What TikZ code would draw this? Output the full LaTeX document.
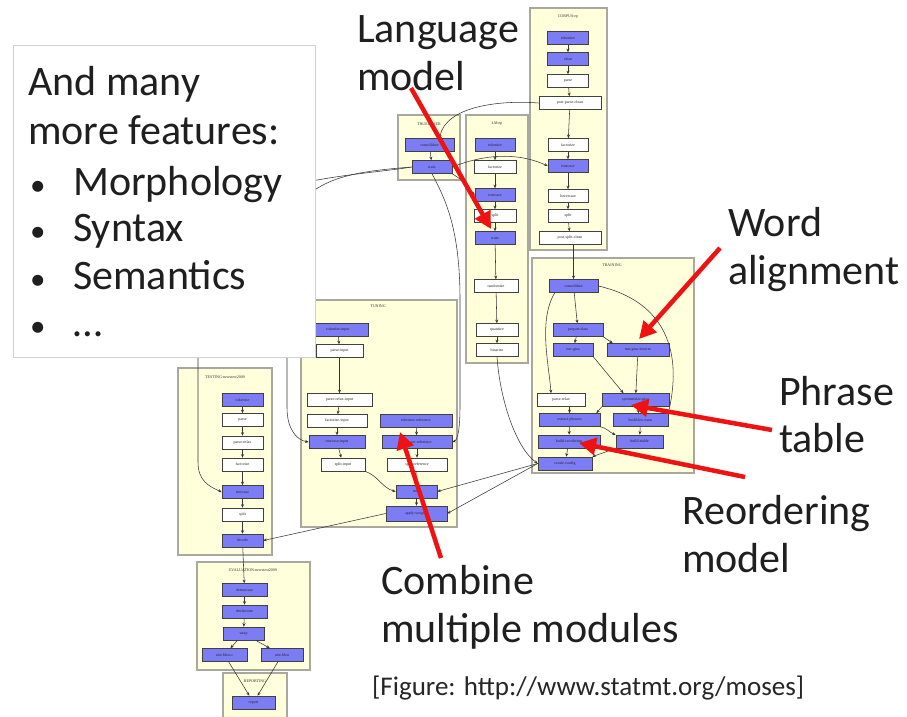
\documentclass[tikz,border=0pt]{standalone}
\usepackage{fontspec}
\setmainfont{Carlito}
\newfontfamily\stepfont{Liberation Serif}
\usetikzlibrary{arrows.meta}
\definecolor{boxfill}{RGB}{255,255,220}
\definecolor{boxline}{RGB}{168,168,158}
\definecolor{stepblue}{RGB}{124,124,244}
\definecolor{edgegray}{RGB}{55,55,55}
\definecolor{callred}{RGB}{238,18,18}
\begin{document}
\begin{tikzpicture}[x=1pt,y=-1pt,
  stagebox/.style={fill=boxfill,draw=boxline,line width=1.6pt},
  stagetitle/.style={font=\stepfont\fontsize{4}{5}\selectfont,text=black!80,inner sep=0pt},
  stepnode/.style={draw=black!75,line width=0.6pt,minimum height=13pt,inner sep=0pt,
    font=\stepfont\fontsize{4}{5}\selectfont,text=black!85},
  bluestep/.style={stepnode,fill=stepblue},
  plainstep/.style={stepnode,fill=white},
  dep/.style={draw=edgegray,line width=0.55pt,-{Stealth[length=3.5pt,width=3pt]}},
  callout/.style={draw=callred,line width=4.5pt,-{Triangle[length=17pt,width=17pt]}},
  bigtext/.style={font=\fontsize{42}{48}\selectfont,anchor=base west,inner sep=0pt,text=black!88},
  bulletmark/.style={font=\fontsize{31}{36}\selectfont,anchor=base west,inner sep=0pt,text=black!88},
]
\fill[white] (0,0) rectangle (907,716);
\useasboundingbox (0,0) rectangle (907,716);

% ---------- stage frames ----------
\draw[stagebox] (530,8) rectangle (607,250);    % CORPUS
\draw[stagebox] (398,115) rectangle (460,180);  % TRUECASER
\draw[stagebox] (466,115) rectangle (528,363);  % LM
\draw[stagebox] (532,258) rectangle (694,473);  % TRAINING
\draw[stagebox] (301,300) rectangle (457,527);  % TUNING
\draw[stagebox] (178,368) rectangle (272,555);  % TESTING
\draw[stagebox] (197,562) rectangle (310,670);  % EVALUATION
\draw[stagebox] (223,673) rectangle (287,722);  % REPORTING

\node[stagetitle] (corpustitle) at (568,17) {CORPUS:ep};
\node[stagetitle] (tctitle) at (429,124) {TRUECASER};
\node[stagetitle] (lmtitle) at (497,124) {LM:ep};
\node[stagetitle] (trtitle) at (612,265) {TRAINING};
\node[stagetitle] (tutitle) at (378,306) {TUNING};
\node[stagetitle] (tetitle) at (225,377) {TESTING:newstest2009};
\node[stagetitle] (evtitle) at (253,570) {EVALUATION:newstest2009};
\node[stagetitle] (rptitle) at (255,681) {REPORTING};

% ---------- CORPUS ----------
\node[bluestep,minimum width=41pt] (ctok) at (568,38) {tokenize};
\node[bluestep,minimum width=41pt] (cclean) at (568,59) {clean};
\node[plainstep,minimum width=41pt] (cparse) at (568,81) {parse};
\node[plainstep,minimum width=62pt] (cppc) at (570,103) {post-parse-clean};
\node[plainstep,minimum width=40pt] (cfac) at (568,145) {factorize};
\node[bluestep,minimum width=40pt] (ctc) at (568,166) {truecase};
\node[plainstep,minimum width=40pt] (clc) at (568,196) {lowercase};
\node[plainstep,minimum width=40pt] (csplit) at (568,216) {split};
\node[plainstep,minimum width=62pt] (cpsc) at (570,238) {post-split-clean};

% ---------- TRUECASER ----------
\node[bluestep,minimum width=49pt] (tcons) at (429.5,145) {consolidate};
\node[bluestep,minimum width=40pt] (ttrain) at (432,167) {train};

% ---------- LM ----------
\node[bluestep,minimum width=40pt] (ltok) at (495,145) {tokenize};
\node[plainstep,minimum width=42pt] (lfac) at (495,167) {factorize};
\node[bluestep,minimum width=40pt] (ltc) at (495,195) {truecase};
\node[plainstep,minimum width=42pt] (lsplit) at (495,216) {split};
\node[bluestep,minimum width=40pt] (ltrain) at (495,238) {train};
\node[plainstep,minimum width=44pt] (lrand) at (496,286) {randomize};
\node[plainstep,minimum width=42pt] (lquant) at (497,330) {quantize};
\node[plainstep,minimum width=42pt] (lbin) at (497,350) {binarize};

% ---------- TRAINING ----------
\node[bluestep,minimum width=49pt] (rcons) at (573.5,286) {consolidate};
\node[bluestep,minimum width=50pt] (rprep) at (578,330) {prepare-data};
\node[bluestep,minimum width=40pt] (rgiza) at (573,350) {run-giza};
\node[bluestep,minimum width=62pt] (rgizainv) at (638,350) {run-giza-inverse};
\node[plainstep,minimum width=48pt] (rrelax) at (561,400) {parse-relax};
\node[bluestep,minimum width=67pt] (rsym) at (635.5,400) {symmetrize-giza};
\node[bluestep,minimum width=61pt] (rext) at (569.5,420) {extract-phrases};
\node[bluestep,minimum width=55pt] (rlex) at (640.5,420) {build-lex-trans};
\node[bluestep,minimum width=62pt] (rreo) at (569,441.5) {build-reordering};
\node[bluestep,minimum width=47pt] (rtt) at (639.5,441.5) {build-ttable};
\node[bluestep,minimum width=54pt] (rcc) at (565,463.5) {create-config};

% ---------- TUNING ----------
\node[bluestep,minimum width=61pt] (utokin) at (338,330) {tokenize-input};
\node[plainstep,minimum width=47pt] (uparsein) at (339.5,351) {parse-input};
\node[plainstep,minimum width=65pt] (urelaxin) at (339.5,400) {parse-relax-input};
\node[plainstep,minimum width=60pt] (ufacin) at (337,421) {factorize-input};
\node[bluestep,minimum width=56pt] (utcin) at (337,442) {truecase-input};
\node[plainstep,minimum width=44pt] (usplitin) at (343,464.5) {split-input};
\node[bluestep,minimum width=72pt] (utokref) at (416,420.5) {tokenize-reference};
\node[bluestep,minimum width=70pt] (utcref) at (417,442) {truecase-reference};
\node[plainstep,minimum width=60pt] (usplitref) at (417,464.5) {split-reference};
\node[bluestep,minimum width=41pt] (utune) at (416.5,491.5) {tune};
\node[bluestep,minimum width=61pt,minimum height=15pt] (uapply) at (416.5,513.5) {apply-weights};

% ---------- TESTING ----------
\node[bluestep,minimum width=41pt] (stok) at (242.5,400) {tokenize};
\node[plainstep,minimum width=41pt] (sparse) at (242.5,420) {parse};
\node[plainstep,minimum width=41pt] (srelax) at (242.5,442.5) {parse-relax};
\node[plainstep,minimum width=41pt] (sfac) at (242.5,464.5) {factorize};
\node[bluestep,minimum width=41pt] (stc) at (242.5,492) {truecase};
\node[plainstep,minimum width=41pt] (ssplit) at (242.5,514.5) {split};
\node[bluestep,minimum width=41pt] (sdec) at (242.5,540.5) {decode};

% ---------- EVALUATION / REPORTING ----------
\node[bluestep,minimum width=45pt] (edetc) at (244.5,590) {detruecase};
\node[bluestep,minimum width=45pt] (edetok) at (244.5,611.5) {detokenize};
\node[bluestep,minimum width=41pt] (ewrap) at (243.5,633.5) {wrap};
\node[bluestep,minimum width=45pt] (enbc) at (224.5,655) {nist-bleu-c};
\node[bluestep,minimum width=42pt] (enb) at (282,655) {nist-bleu};
\node[bluestep,minimum width=43pt] (preport) at (253.5,702.5) {report};

% ---------- dependencies inside stages ----------
\foreach \a/\b in {ctok/cclean,cclean/cparse,cparse/cppc,cppc/cfac,cfac/ctc,ctc/clc,clc/csplit,csplit/cpsc,
  tcons/ttrain,
  ltok/lfac,lfac/ltc,ltc/lsplit,lsplit/ltrain,ltrain/lrand,lrand/lquant,lquant/lbin,
  rcons/rprep,rprep/rgiza,rgizainv/rsym,rsym/rlex,rlex/rtt,rext/rreo,rreo/rcc,
  utokin/uparsein,uparsein/urelaxin,urelaxin/ufacin,ufacin/utcin,utcin/usplitin,
  utokref/utcref,utcref/usplitref,usplitref/utune,utune/uapply,
  stok/sparse,sparse/srelax,srelax/sfac,sfac/stc,stc/ssplit,ssplit/sdec,
  sdec/edetc,edetc/edetok,edetok/ewrap,ewrap/enbc,ewrap/enb,enbc/preport,enb/preport}
  \draw[dep] (\a) -- (\b);

\draw[dep] (cpsc.south -| rcons) -- (rcons);
\draw[dep] (rcons.200) .. controls (538,320) and (549,365) .. ([xshift=-10pt]rrelax.north);
\draw[dep] (rcons.east) .. controls (660,300) and (684,345) .. (rlex.north east);
\draw[dep] (rprep.south east) -- ([xshift=6pt]rgizainv.north west);
\draw[dep] (rgiza.south east) -- ([xshift=-12pt]rsym.north);
\draw[dep] (rrelax.south -| rext.north) -- (rext.north);
\draw[dep] (rsym.south west) -- ([xshift=-4pt]rext.north east);
\draw[dep] (rext.south east) to[out=-10,in=160] (rtt.north west);
\draw[dep] (rtt.south west) to[out=200,in=20] (rcc.north east);
\draw[dep] (usplitin.south east) to[out=-20,in=165] (utune.west);

% ---------- dependencies between stages ----------
\draw[dep] (cppc.west) .. controls (500,100) and (446,106) .. ([xshift=10pt]tcons.north);
\draw[dep] (ttrain.east) .. controls (490,152) and (522,154) .. (ctc.west);
\draw[dep] (ttrain.south east) .. controls (462,180) .. (ltc.west);
\draw[dep] (ttrain.south) .. controls (446,200) and (460,230) .. (460,300)
  -- (460,405) .. controls (460,428) and (458,440) .. (utcref.east);
\draw[dep] (ttrain.west) .. controls (360,176) and (198,180) .. (198,260)
  -- (198,462) .. controls (198,480) and (208,486) .. (stc.west);
\draw[dep] (ttrain.west) .. controls (350,172) and (287,178) .. (287,250)
  -- (287,408) .. controls (287,428) and (296,440) .. (utcin.west);
\draw[dep] (lbin.south) .. controls (500,400) and (516,448) .. (rcc.west);
\draw[dep] (rcc.west) -- (utune.east);
\draw[dep] (rcc.west) -- (uapply.east);
\draw[dep] (uapply.west) -- (sdec.east);

% ---------- feature list panel ----------
\draw[fill=white,draw=black!18,line width=0.6pt] (13,45) rectangle (315,357);
\node[bigtext] (ln1) at (28,95) {And many};
\node[bigtext] (ln2) at (28,144) {more features:};
\foreach \t/\y/\n in {Morphology/195/b1,Syntax/241/b2,Semantics/289/b3,…/336/b4}{
  \node[bulletmark] (\n dot) at (30,\y) {•};
  \node[bigtext] (\n) at (73,\y) {\t};
}

% ---------- call-out labels ----------
\node[bigtext] (lm1) at (357,42) {Language};
\node[bigtext] (lm2) at (357,90) {model};
\node[bigtext] (wa1) at (728,236) {Word};
\node[bigtext] (wa2) at (728,284) {alignment};
\node[bigtext] (pt1) at (779,405) {Phrase};
\node[bigtext] (pt2) at (779,452) {table};
\node[bigtext] (rm1) at (682,524) {Reordering};
\node[bigtext] (rm2) at (682,572) {model};
\node[bigtext] (cm1) at (381,594) {Combine};
\node[bigtext] (cm2) at (381,642) {multiple modules};
\node[font=\fontsize{27}{32}\selectfont,anchor=base west,inner sep=0pt,text=black!85] (cite) at (372,695)
  {[Figure: http://www.statmt.org/moses]};

% ---------- red call-out arrows ----------
\coordinate (lmfrom) at (411,88);   \coordinate (lmto) at (491,229);
\coordinate (wafrom) at (720,248);  \coordinate (wato) at (639,339);
\coordinate (ptfrom) at (772,430);  \coordinate (ptto) at (631,405);
\coordinate (rmfrom) at (745,477);  \coordinate (rmto) at (579,443);
\coordinate (cmfrom) at (441,558);  \coordinate (cmto) at (400,432);
\foreach \s in {lm,wa,pt,rm,cm}
  \draw[callout] (\s from) -- (\s to);
\end{tikzpicture}
\end{document}
